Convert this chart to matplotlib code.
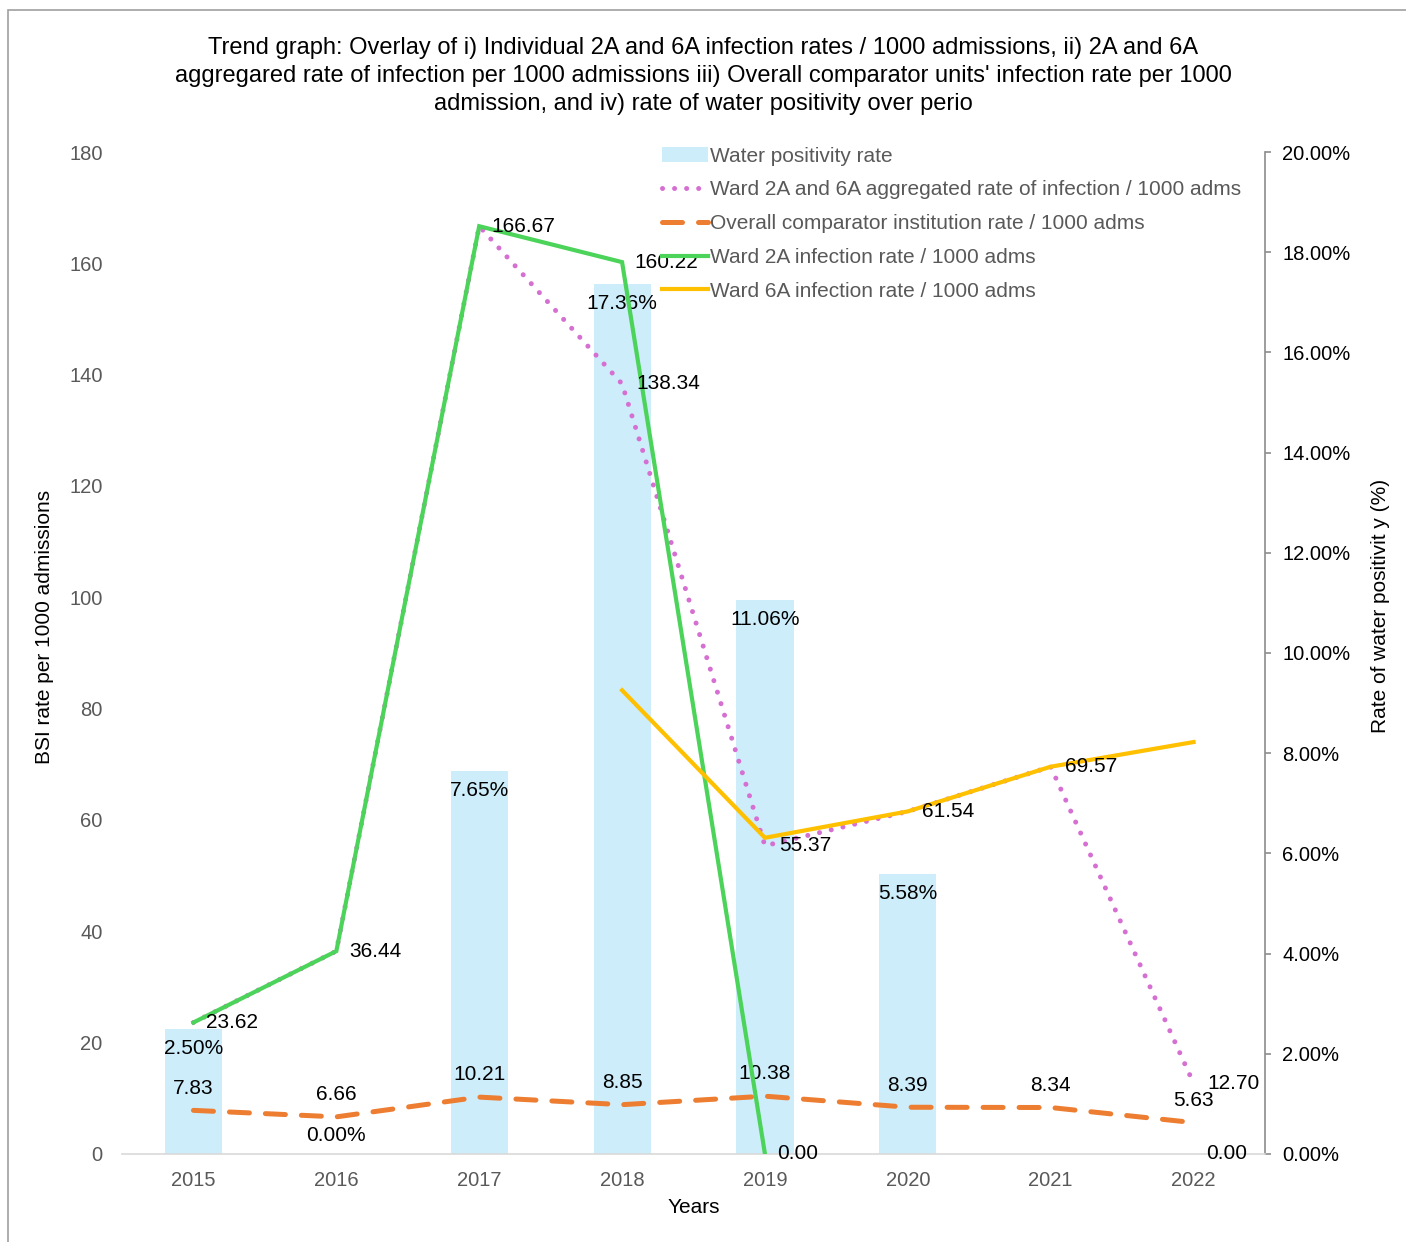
import matplotlib.pyplot as plt
import numpy as np
from matplotlib.patches import Rectangle
from matplotlib.ticker import FuncFormatter

plt.rcParams['font.family'] = ['Liberation Sans', 'DejaVu Sans']

years = ['2015', '2016', '2017', '2018', '2019', '2020', '2021', '2022']
water_pos = [2.50, 0.00, 7.65, 17.36, 11.06, 5.58, np.nan, np.nan]
aggregated = [23.62, 36.44, 166.67, 138.34, 55.37, 61.54, 69.57, 12.70]
comparator = [7.83, 6.66, 10.21, 8.85, 10.38, 8.39, 8.34, 5.63]
ward_2a = [23.62, 36.44, 166.67, 160.22, 0.00, np.nan, np.nan, 0.00]
ward_6a = [np.nan, np.nan, np.nan, 83.3, 56.8, 61.54, 69.57, 74.0]

title = ("Trend graph: Overlay of i) Individual 2A and 6A infection rates / 1000 admissions, ii) 2A and 6A\n"
         "aggregared rate of infection per 1000 admissions iii) Overall comparator units' infection rate per 1000\n"
         "admission, and iv) rate of water positivity over perio")

fig = plt.figure(figsize=(14.06, 12.42), dpi=100)
ax = fig.add_axes([0.0868, 0.0709, 0.8129, 0.8067])
ax2 = ax.twinx()
ax.set_zorder(ax2.get_zorder() + 1)
ax.patch.set_visible(False)

x = np.arange(len(years))
gray = '#595959'
fs = 15

# bars on the right axis
bars = ax2.bar(x, water_pos, width=0.4, color='#cdedfb', label='Water positivity rate', zorder=1)
for xi, v in zip(x, water_pos):
    if np.isnan(v):
        continue
    off = -14 if v > 0 else 13
    ax2.annotate(f'{v:.2f}%', (xi, v), xytext=(0, off), textcoords='offset points',
                 ha='center', va='center', fontsize=fs, color='black')

# lines on the left axis
l_agg, = ax.plot(x, aggregated, color='#d66fd2', lw=3.6, linestyle=(0, (0.01, 2.4)),
                 dash_capstyle='round', solid_capstyle='round',
                 label='Ward 2A and 6A aggregated rate of infection / 1000 adms', zorder=3)
l_cmp, = ax.plot(x, comparator, color='#ed7d31', lw=3.6, linestyle=(0, (4, 3.2)),
                 dash_capstyle='round',
                 label='Overall comparator institution rate / 1000 adms', zorder=3)
l_2a, = ax.plot(x, ward_2a, color='#4cd35a', lw=3.0, solid_joinstyle='miter',
                label='Ward 2A infection rate / 1000 adms', zorder=4)
l_6a, = ax.plot(x, ward_6a, color='#ffc000', lw=3.0,
                label='Ward 6A infection rate / 1000 adms', zorder=4)

# data labels
for xi, v in zip(x, comparator):
    ax.annotate(f'{v:.2f}', (xi, v), xytext=(0, 16), textcoords='offset points',
                ha='center', va='center', fontsize=fs)
for xi, v in zip(x, ward_2a):
    if np.isnan(v):
        continue
    ax.annotate(f'{v:.2f}', (xi, v), xytext=(9, 0), textcoords='offset points',
                ha='left', va='center', fontsize=fs, zorder=6)
for xi, v in zip(x, aggregated):
    if xi <= 2:
        continue
    ax.annotate(f'{v:.2f}', (xi, v), xytext=(10, 0), textcoords='offset points',
                ha='left', va='center', fontsize=fs, zorder=6)

ax.set_xlim(-0.5, 7.5)
ax.set_ylim(0, 180)
ax.set_yticks(np.arange(0, 181, 20))
ax2.set_ylim(0, 20)
ax2.set_yticks(np.arange(0, 21, 2))
ax2.yaxis.set_major_formatter(FuncFormatter(lambda v, p: f'{v:.2f}%'))
ax.set_xticks(x)
ax.set_xticklabels(years)

for a in (ax, ax2):
    for s in a.spines.values():
        s.set_visible(False)
ax.spines['bottom'].set_visible(True)
ax.spines['bottom'].set_color('#d9d9d9')
ax.spines['bottom'].set_linewidth(1.2)
ax2.spines['right'].set_visible(True)
ax2.spines['right'].set_color('#8c8c8c')
ax2.spines['right'].set_linewidth(1.2)

ax.tick_params(axis='y', length=0, pad=14, labelsize=14.5, labelcolor=gray)
ax.tick_params(axis='x', length=0, pad=12, labelsize=14.5, labelcolor=gray)
ax2.tick_params(axis='y', length=4.5, width=1.2, color='#8c8c8c', pad=8, labelsize=14.5, labelcolor='black')

ax.set_xlabel('Years', fontsize=fs, labelpad=6)
ax.set_ylabel('BSI rate per 1000 admissions', fontsize=fs)
ax2.set_ylabel('Rate of water positivit y (%)', fontsize=fs)
ax.yaxis.set_label_coords(-0.0594, 0.526)
ax2.yaxis.set_label_coords(1.093, 0.547)

fig.text(0.5, 0.970, title, ha='center', va='top', fontsize=17, linespacing=1.34)

fig.legend(handles=[bars, l_agg, l_cmp, l_2a, l_6a], loc='upper left',
           bbox_to_anchor=(0.471, 0.882), bbox_transform=fig.transFigure,
           frameon=False, fontsize=15, labelcolor=gray, borderpad=0, borderaxespad=0,
           handlelength=2.2, handletextpad=0.1, labelspacing=0.71)

fig.patches.append(Rectangle((8 / 1406, -0.1), 1.2, 1 - 10 / 1242 + 0.1,
                             transform=fig.transFigure, fill=False,
                             edgecolor='#a0a0a0', lw=1.2))

fig.savefig('out.png', dpi=100)
